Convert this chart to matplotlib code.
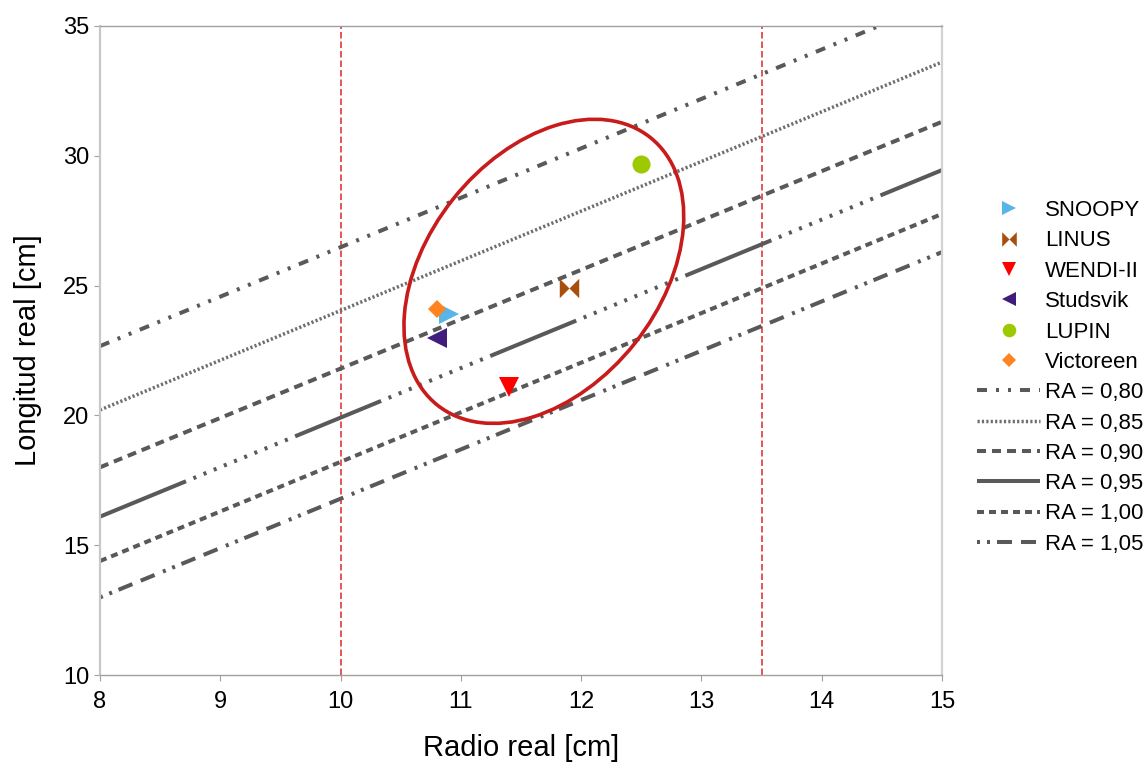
import numpy as np
import matplotlib
matplotlib.use("Agg")
import matplotlib.pyplot as plt
from matplotlib.patches import Ellipse
from matplotlib.transforms import ScaledTranslation

plt.rcParams['font.family'] = ['Liberation Sans', 'DejaVu Sans']
plt.rcParams['lines.scale_dashes'] = False

# --- data ---
names = ["SNOOPY", "LINUS", "WENDI-II", "Studsvik", "LUPIN", "Victoreen"]
radio = [10.9, 11.9, 11.4, 10.8, 12.5, 10.8]
longitud = [23.9, 24.9, 21.1, 23.0, 29.7, 24.1]
colors = ["#5ab4e6", "#a84f0f", "#ff0000", "#401c7c", "#9cc900", "#ff8420"]

ra_labels = ["RA = 0,80", "RA = 0,85", "RA = 0,90", "RA = 0,95", "RA = 1,00", "RA = 1,05"]
ra_x = [8, 15]
ra_y_start = [22.67, 20.21, 18.00, 16.10, 14.39, 12.99]
ra_y_end = [36.00, 33.61, 31.31, 29.45, 27.76, 26.29]

limits_r = [10.0, 13.5]

# --- styles ---
PX = 0.72  # points per pixel at 100 dpi
bowtie = [(-1, 1), (0, 0), (1, 1), (1, -1), (0, 0), (-1, -1), (-1, 1)]
markers = [">", bowtie, "v", "<", "o", "D"]
msizes = [14, 14, 14, 14, 13, 9.5]

def px(*a):
    return tuple(v * PX for v in a)

ra_dashes = [
    (0, px(10, 9, 3, 9, 3, 9)),
    (0, px(2.2, 2.2)),
    (0, px(9, 6)),
    (0, px(93, 8, 3, 8, 3, 8, 3, 8, 3, 8, 3, 8, 3, 8, 3, 8, 3, 8, 3, 8, 3, 8)),
    (0, px(7, 5)),
    (0, px(3, 7, 3, 7, 15, 9, 15, 9)),
]
ra_lw = [2.9, 2.5, 2.9, 2.9, 2.9, 2.9]
ra_colors = ["#595959", "#6e6e6e", "#595959", "#595959", "#595959", "#595959"]

fig = plt.figure(figsize=(11.45, 7.69), dpi=100)
ax = fig.add_axes([100 / 1145, 1 - 675 / 769, (942 - 100) / 1145, (675 - 26) / 769])

# reference lines
for xr in limits_r:
    ax.axvline(xr, color="#e0262c", lw=1.1, linestyle=(0, px(6.5, 3)), zorder=1)

# points
handles = []
for n, r, l, c, m, s in zip(names, radio, longitud, colors, markers, msizes):
    h, = ax.plot([r], [l], linestyle="none", marker=m, markersize=s, color=c,
                 markeredgewidth=0, label=n, zorder=4)
    handles.append(h)

# RA lines
for lab, y0, y1, ls, lw, lc in zip(ra_labels, ra_y_start, ra_y_end, ra_dashes, ra_lw, ra_colors):
    h, = ax.plot(ra_x, [y0, y1], color=lc, lw=lw, linestyle=ls,
                 dash_capstyle="butt", label=lab, zorder=2)
    handles.append(h)

ax.set_xlim(8, 15)
ax.set_ylim(10, 35)
ax.set_xticks(range(8, 16))
ax.set_yticks(range(10, 36, 5))

# ellipse (annotation, sized in inches on screen)
ell = Ellipse((0, 0), width=3.42, height=2.32, angle=51.5, fill=False,
              edgecolor="#c81b1b", lw=2.6, zorder=3,
              transform=fig.dpi_scale_trans + ScaledTranslation(11.69, 25.55, ax.transData))
ax.add_patch(ell)

# spines
ax.spines['left'].set_color("#c8c8c8")
ax.spines['left'].set_linewidth(1.6)
ax.spines['right'].set_color("#d2d2d2")
ax.spines['right'].set_linewidth(1.6)
ax.spines['top'].set_color("#a0a0a0")
ax.spines['top'].set_linewidth(1.0)
ax.spines['bottom'].set_color("#a0a0a0")
ax.spines['bottom'].set_linewidth(1.0)

ax.tick_params(axis='both', which='major', length=4.5, width=0.8, color="#a0a0a0",
               labelsize=17, labelcolor="black", direction="out")
ax.tick_params(axis='y', pad=3)
ax.tick_params(axis='x', pad=7)

ax.set_xlabel("Radio real [cm]", fontsize=21, labelpad=15)
ax.set_ylabel("Longitud real [cm]", fontsize=21, labelpad=15)

fig.legend(handles=handles, loc="center left", bbox_to_anchor=(977 / 1145, 1 - 377.5 / 769),
           frameon=False, fontsize=16, handlelength=2.84, handletextpad=0.22,
           labelspacing=0.42, borderpad=0, borderaxespad=0, markerscale=0.75)

fig.savefig("out.png", dpi=100)
